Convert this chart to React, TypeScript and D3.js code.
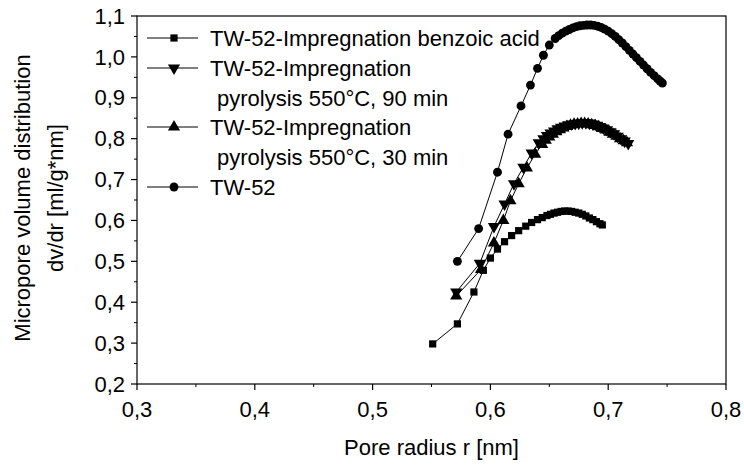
import React, { useEffect, useRef } from "react";
import * as d3 from "d3";

// Series: TW-52-Impregnation benzoic acid (squares)
const benzoicR = [0.551, 0.572, 0.586, 0.594, 0.600, 0.606, 0.612, 0.618, 0.624, 0.630, 0.635, 0.640, 0.644, 0.648, 0.651, 0.654, 0.657, 0.660, 0.663, 0.666, 0.669, 0.672, 0.675, 0.678, 0.681, 0.684, 0.687, 0.690, 0.693, 0.695];
const benzoicV = [0.298, 0.347, 0.425, 0.478, 0.508, 0.530, 0.548, 0.563, 0.575, 0.586, 0.595, 0.602, 0.607, 0.612, 0.615, 0.618, 0.620, 0.622, 0.623, 0.623, 0.622, 0.620, 0.618, 0.615, 0.611, 0.606, 0.602, 0.597, 0.592, 0.589];

// Series: pyrolysis 550°C, 90 min (down triangles)
const pyro90R = [0.571, 0.591, 0.603, 0.612, 0.620, 0.628, 0.635, 0.641, 0.645, 0.648, 0.651, 0.654, 0.657, 0.660, 0.663, 0.666, 0.669, 0.672, 0.675, 0.678, 0.681, 0.684, 0.687, 0.690, 0.693, 0.696, 0.699, 0.702, 0.705, 0.708, 0.711, 0.714, 0.717];
const pyro90V = [0.425, 0.495, 0.585, 0.640, 0.690, 0.730, 0.765, 0.790, 0.800, 0.808, 0.814, 0.819, 0.824, 0.828, 0.831, 0.834, 0.836, 0.837, 0.838, 0.839, 0.839, 0.838, 0.836, 0.833, 0.830, 0.826, 0.822, 0.817, 0.812, 0.806, 0.800, 0.794, 0.788];

// Series: pyrolysis 550°C, 30 min (up triangles)
const pyro30R = [0.571, 0.592, 0.603, 0.611, 0.617, 0.624, 0.631, 0.638, 0.644, 0.647, 0.650, 0.653, 0.656, 0.659, 0.662, 0.665, 0.668, 0.671, 0.674, 0.677, 0.680, 0.683, 0.686, 0.689, 0.692, 0.695, 0.698, 0.701, 0.704, 0.707, 0.710, 0.713, 0.716];
const pyro30V = [0.415, 0.480, 0.545, 0.600, 0.648, 0.690, 0.728, 0.762, 0.786, 0.796, 0.804, 0.811, 0.817, 0.822, 0.826, 0.830, 0.833, 0.835, 0.836, 0.837, 0.837, 0.836, 0.834, 0.832, 0.829, 0.825, 0.821, 0.816, 0.811, 0.806, 0.800, 0.795, 0.790];

// Series: TW-52 (circles)
const tw52R = [0.572, 0.590, 0.606, 0.615, 0.626, 0.634, 0.640, 0.645, 0.650, 0.655, 0.658, 0.661, 0.664, 0.667, 0.670, 0.673, 0.676, 0.679, 0.682, 0.685, 0.688, 0.691, 0.694, 0.697, 0.700, 0.703, 0.706, 0.709, 0.712, 0.715, 0.718, 0.721, 0.724, 0.727, 0.730, 0.733, 0.736, 0.739, 0.742, 0.744, 0.746];
const tw52V = [0.500, 0.580, 0.718, 0.811, 0.880, 0.931, 0.972, 1.004, 1.029, 1.045, 1.052, 1.058, 1.063, 1.067, 1.071, 1.074, 1.076, 1.077, 1.078, 1.078, 1.077, 1.075, 1.072, 1.068, 1.063, 1.057, 1.050, 1.042, 1.034, 1.025, 1.016, 1.007, 0.998, 0.989, 0.980, 0.971, 0.962, 0.954, 0.946, 0.941, 0.936];

const xTicks = [0.3, 0.4, 0.5, 0.6, 0.7, 0.8];
const yTicks = [0.2, 0.3, 0.4, 0.5, 0.6, 0.7, 0.8, 0.9, 1.0, 1.1];
const xLabel = "Pore radius r [nm]";
const yLabel1 = "Micropore volume distribution";
const yLabel2 = "dv/dr [ml/g*nm]";

const legendItems = [
  { lines: ["TW-52-Impregnation benzoic acid"], marker: "square" },
  { lines: ["TW-52-Impregnation", "pyrolysis 550°C, 90 min"], marker: "down" },
  { lines: ["TW-52-Impregnation", "pyrolysis 550°C, 30 min"], marker: "up" },
  { lines: ["TW-52"], marker: "circle" },
];

const W = 744, H = 466;
const FONT = "'Liberation Sans', Arial, Helvetica, sans-serif";
const FS = 22;

export default function App() {
  const ref = useRef<SVGSVGElement>(null);
  useEffect(() => {
    const svg = d3.select(ref.current);
    svg.selectAll("*").remove();
    const left = 137, right = 726, top = 16, bottom = 384;
    const x = d3.scaleLinear().domain([0.3, 0.8]).range([left, right]);
    const y = d3.scaleLinear().domain([0.2, 1.1]).range([bottom, top]);

    const g = svg.append("g");
    g.append("rect").attr("x", left).attr("y", top).attr("width", right - left).attr("height", bottom - top)
      .attr("fill", "none").attr("stroke", "#000").attr("stroke-width", 1.2);

    const fmt = (t: number) => d3.format(".1f")(t).replace(".", ",");
    const xMinor = d3.range(0.35, 0.8, 0.1);
    xTicks.forEach((t) => {
      g.append("line").attr("x1", x(t)).attr("x2", x(t)).attr("y1", bottom).attr("y2", bottom + 6).attr("stroke", "#000").attr("stroke-width", 1.2);
      g.append("text").attr("x", x(t)).attr("y", bottom + 33).attr("text-anchor", "middle")
        .attr("font-family", FONT).attr("font-size", FS).text(fmt(t));
    });
    xMinor.forEach((t) => {
      g.append("line").attr("x1", x(t)).attr("x2", x(t)).attr("y1", bottom).attr("y2", bottom + 3).attr("stroke", "#000").attr("stroke-width", 1);
    });
    const yMinor = d3.range(0.25, 1.1, 0.1);
    yTicks.forEach((t) => {
      g.append("line").attr("x1", left - 6).attr("x2", left).attr("y1", y(t)).attr("y2", y(t)).attr("stroke", "#000").attr("stroke-width", 1.2);
      g.append("text").attr("x", left - 12).attr("y", y(t)).attr("dy", "0.35em").attr("text-anchor", "end")
        .attr("font-family", FONT).attr("font-size", FS).text(fmt(t));
    });
    yMinor.forEach((t) => {
      g.append("line").attr("x1", left - 3).attr("x2", left).attr("y1", y(t)).attr("y2", y(t)).attr("stroke", "#000").attr("stroke-width", 1);
    });

    g.append("text").attr("x", (left + right) / 2).attr("y", 455).attr("text-anchor", "middle")
      .attr("font-family", FONT).attr("font-size", FS).text(xLabel);
    const cy = (top + bottom) / 2 - 2;
    g.append("text").attr("transform", `translate(30,${cy}) rotate(-90)`).attr("text-anchor", "middle")
      .attr("font-family", FONT).attr("font-size", FS).text(yLabel1);
    g.append("text").attr("transform", `translate(63,${cy}) rotate(-90)`).attr("text-anchor", "middle")
      .attr("font-family", FONT).attr("font-size", FS).text(yLabel2);

    const symFor = (m: string) => {
      if (m === "square") return d3.symbol().type(d3.symbolSquare).size(52)();
      if (m === "circle") return d3.symbol().type(d3.symbolCircle).size(62)();
      return d3.symbol().type(d3.symbolTriangle).size(64)();
    };
    const markerAt = (sel: any, m: string, px: number, py: number) => {
      sel.append("path").attr("d", symFor(m))
        .attr("transform", `translate(${px},${py})${m === "down" ? " rotate(180)" : ""}`)
        .attr("fill", "#000");
    };

    const series = [
      { r: benzoicR, v: benzoicV, m: "square" },
      { r: pyro90R, v: pyro90V, m: "down" },
      { r: pyro30R, v: pyro30V, m: "up" },
      { r: tw52R, v: tw52V, m: "circle" },
    ];
    series.forEach((s) => {
      const pts: [number, number][] = s.r.map((r, i) => [x(r), y(s.v[i])]);
      g.append("path").attr("d", d3.line()(pts)).attr("fill", "none").attr("stroke", "#000").attr("stroke-width", 1);
      pts.forEach((p) => markerAt(g, s.m, p[0], p[1]));
    });

    const rowY = [38, 68, 98, 127, 157, 187];
    let row = 0;
    legendItems.forEach((it) => {
      const ly = rowY[row];
      g.append("line").attr("x1", 147).attr("x2", 198).attr("y1", ly).attr("y2", ly).attr("stroke", "#000").attr("stroke-width", 1);
      markerAt(g, it.marker, 174, ly);
      it.lines.forEach((t, k) => {
        g.append("text").attr("x", k === 0 ? 210 : 217).attr("y", rowY[row + k]).attr("dy", "0.35em")
          .attr("font-family", FONT).attr("font-size", FS).text(t);
      });
      row += it.lines.length;
    });
  }, []);
  return (
    <svg ref={ref} width={W} height={H} style={{ position: "absolute", left: 0, top: 0, background: "#fff" }} />
  );
}
